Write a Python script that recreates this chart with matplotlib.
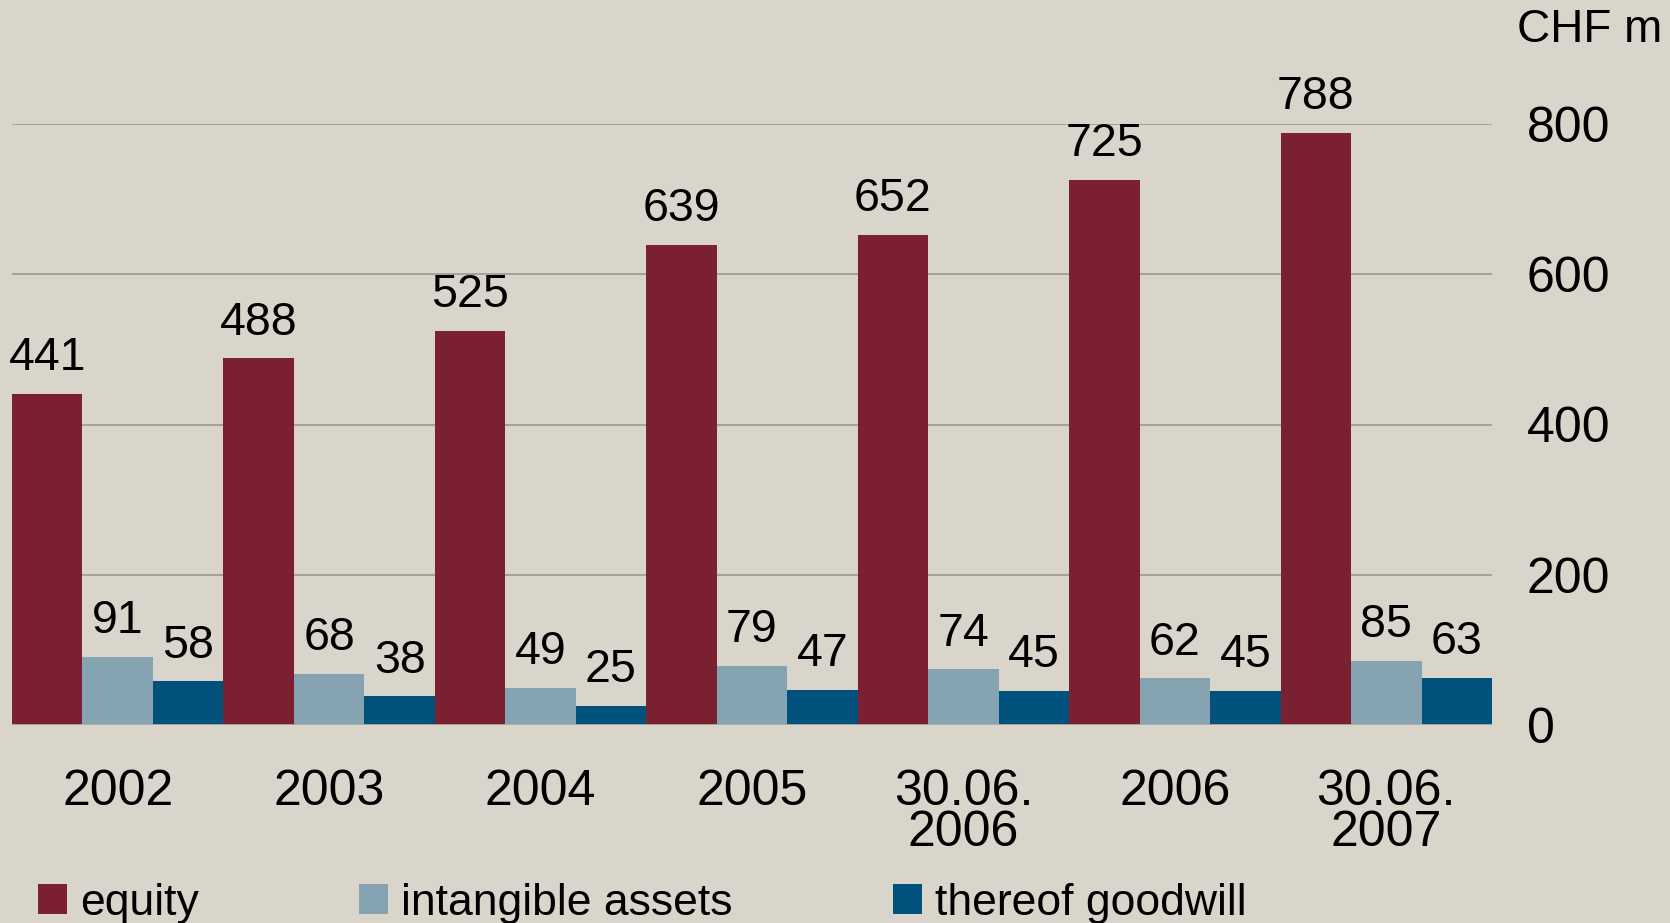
import matplotlib.pyplot as plt
import numpy as np

# 데이터 정의
categories = ['2002', '2003', '2004', '2005', '30.06.\n2006', '2006', '30.06.\n2007']
equity = [441, 488, 525, 639, 652, 725, 788]
intangible = [91, 68, 49, 79, 74, 62, 85]
goodwill = [58, 38, 25, 47, 45, 45, 63]
series_names = ['equity', 'intangible assets', 'thereof goodwill']
y_ticks = [0, 200, 400, 600, 800]

bg = '#d9d5cb'
colors = ['#7a2030', '#85a3b1', '#00517c']

plt.rcParams['font.family'] = ['Liberation Sans', 'DejaVu Sans']

fig = plt.figure(figsize=(16.7, 9.23), dpi=100, facecolor=bg)
ax = fig.add_axes([12 / 1670, 198 / 923, 1480 / 1670, 601 / 923], facecolor=bg)

x = np.arange(len(categories))
w = 1 / 3
for i, (vals, c, name) in enumerate(zip([equity, intangible, goodwill], colors, series_names)):
    pos = x - 0.5 + w / 2 + i * w
    bars = ax.bar(pos, vals, width=w, color=c, label=name, zorder=3)
    for b, v in zip(bars, vals):
        ax.annotate(str(v), (b.get_x() + b.get_width() / 2, v), xytext=(0, 10),
                    textcoords='offset points', ha='center', va='bottom',
                    fontsize=33.5, annotation_clip=False)

ax.set_xlim(-0.5, len(categories) - 0.5)
ax.set_ylim(0, 800)
ax.set_yticks(y_ticks)
ax.yaxis.tick_right()
ax.tick_params(axis='y', length=0, pad=25, labelsize=36)
ax.set_yticklabels([str(t) for t in y_ticks], ha='left')
ax.grid(axis='y', color='#a19d92', linewidth=1.3, zorder=0)
ax.set_xticks([])
for s in ax.spines.values():
    s.set_visible(False)
ax.axhline(0, color='#b3afa5', linewidth=2, zorder=4)

# x축 라벨
for xi, lab in zip(x, categories):
    ax.annotate(lab, (xi, 0), xytext=(0, -32), textcoords='offset points',
                ha='center', va='top', fontsize=36, linespacing=0.86,
                annotation_clip=False)

fig.text(1662 / 1670, 1 - 30 / 923, 'CHF m', ha='right', va='center', fontsize=33)

fig.legend(loc='center left', bbox_to_anchor=(38 / 1670, 1 - 903 / 923), ncol=3,
           frameon=False, fontsize=32, handlelength=0.65, handleheight=0.65,
           handletextpad=0.3, columnspacing=3.6, borderaxespad=0, borderpad=0)

fig.savefig('out.png', dpi=100, facecolor=bg)
